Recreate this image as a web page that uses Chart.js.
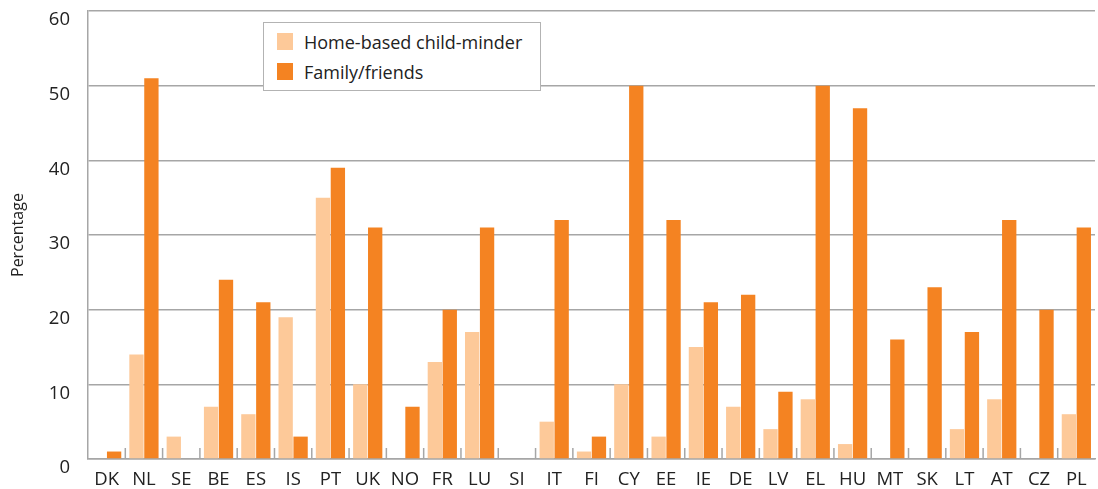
<!DOCTYPE html>
<html>
<head>
<meta charset="utf-8">
<script src="https://cdn.jsdelivr.net/npm/chart.js@4.4.1/dist/chart.umd.min.js"></script>
<style>
  html, body { margin: 0; padding: 0; background: #fff; }
  #wrap { position: relative; width: 1098px; height: 489px; overflow: hidden; }
  #chart { position: absolute; left: 0; top: -18px; }
  #legend {
    position: absolute; left: 263px; top: 22px; width: 276px; height: 67px;
    border: 1.5px solid #b3b3b3; background: #fff;
    font-family: "Open Sans", sans-serif; font-size: 18px; color: #222;
  }
  #legend .row { position: absolute; left: 13px; height: 18px; line-height: 18px; white-space: nowrap; }
  #legend .sw { display: inline-block; width: 16px; height: 17px; vertical-align: top; margin-right: 11px; }
</style>
</head>
<body>
<div id="wrap">
  <canvas id="chart" width="1098" height="507"></canvas>
  <div id="legend"></div>
</div>
<script>
// categories and series
const countries = ['DK', 'NL', 'SE', 'BE', 'ES', 'IS', 'PT', 'UK', 'NO', 'FR', 'LU', 'SI', 'IT', 'FI',
    'CY', 'EE', 'IE', 'DE', 'LV', 'EL', 'HU', 'MT', 'SK', 'LT', 'AT', 'CZ', 'PL'];
const homeBased = [0, 14, 3, 7, 6, 19, 35, 10, 0, 13, 17, 0, 5, 1, 10, 3, 15, 7, 4, 8, 2, 0, 0, 4, 8, 0, 6];
const familyFriends = [1, 51, 0, 24, 21, 3, 39, 31, 7, 20, 31, 0, 32, 3, 50, 32, 21, 22, 9, 50, 47, 16, 23, 17, 32, 20, 31];
const yTicks = [0, 10, 20, 30, 40, 50, 60];

const seriesNames = ['Home-based child-minder', 'Family/friends'];
const colors = ['#fdc999', '#f48322'];
const font = '"Open Sans", sans-serif';

// legend box inside the plot
const legend = document.getElementById('legend');
seriesNames.forEach((name, i) => {
    const row = document.createElement('div');
    row.className = 'row';
    row.style.top = (i === 0 ? 10 : 40) + 'px';
    row.innerHTML = `<span class="sw" style="background:${colors[i]}"></span>${name}`;
    legend.appendChild(row);
});

// short tick marks between categories, pointing up from the x axis
const catTicks = {
    id: 'catTicks',
    afterDatasetsDraw(chart) {
        const x = chart.scales.x;
        const y = chart.scales.y;
        const ctx = chart.ctx;
        const base = y.getPixelForValue(0);
        const half = (x.getPixelForValue(1) - x.getPixelForValue(0)) / 2;
        ctx.save();
        ctx.strokeStyle = '#a6a6a6';
        ctx.lineWidth = 1.5;
        for (let i = 1; i < countries.length; i++) {
            const px = x.getPixelForValue(i) - half;
            ctx.beginPath();
            ctx.moveTo(px, base);
            ctx.lineTo(px, base - 11);
            ctx.stroke();
        }
        ctx.restore();
    }
};

new Chart(document.getElementById('chart'), {
    type: 'bar',
    data: {
        labels: countries,
        datasets: [
            { label: seriesNames[0], data: homeBased, backgroundColor: colors[0] },
            { label: seriesNames[1], data: familyFriends, backgroundColor: colors[1] }
        ]
    },
    options: {
        responsive: false,
        animation: false,
        layout: { padding: { top: 10, right: 3, left: 0, bottom: 0 } },
        datasets: { bar: { categoryPercentage: 0.8, barPercentage: 0.96 } },
        plugins: { legend: { display: false }, tooltip: { enabled: false } },
        scales: {
            x: {
                grid: { display: false },
                border: { color: '#a6a6a6', width: 1.5 },
                ticks: { color: '#222', font: { family: font, size: 18.5 }, padding: 2, maxRotation: 0, autoSkip: false },
                afterFit(scale) { scale.height = 30; }
            },
            y: {
                min: 0, max: 60,
                afterBuildTicks(scale) { scale.ticks = yTicks.map(v => ({ value: v })); },
                grid: { color: '#a6a6a6', lineWidth: 1.5, drawTicks: false },
                border: { color: '#a6a6a6', width: 1.5 },
                ticks: { color: '#222', font: { family: font, size: 18.5 }, padding: 18, labelOffset: 9 },
                title: { display: true, text: 'Percentage', color: '#222', font: { family: font, size: 16 }, padding: { top: 9, bottom: 0 } },
                afterFit(scale) { scale.width = 88; }
            }
        }
    },
    plugins: [catTicks]
});
</script>
</body>
</html>
